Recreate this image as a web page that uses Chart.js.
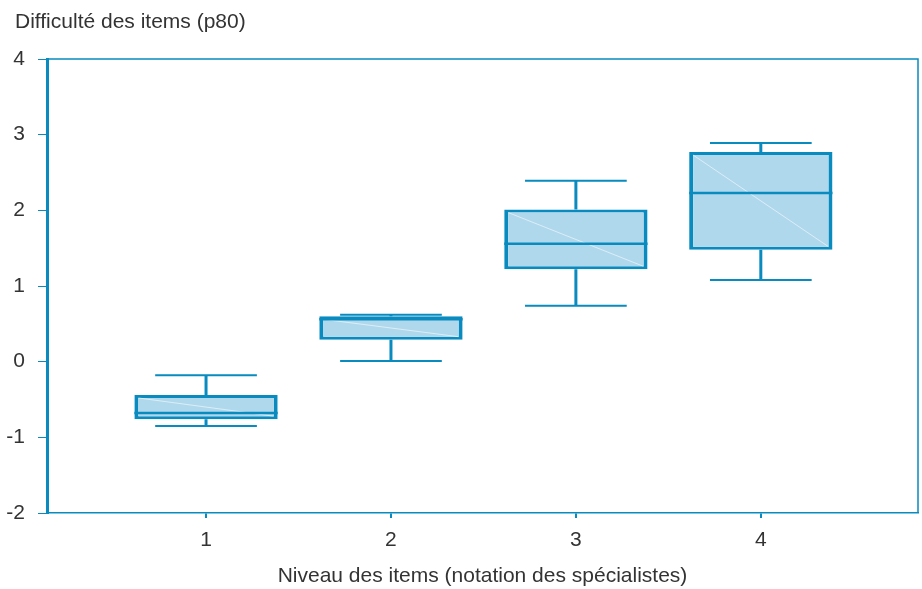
<!DOCTYPE html>
<html>
<head>
<meta charset="utf-8">
<script src="https://cdn.jsdelivr.net/npm/chart.js@4"></script>
<style>
  html, body { margin: 0; padding: 0; background: #fff; }
  #wrap { width: 922px; height: 589px; }
</style>
</head>
<body>
<div id="wrap"><canvas id="boxChart"></canvas></div>
<script>
// data
const levels = [1, 2, 3, 4];
const whiskerMin = [-0.85, 0.01, 0.74, 1.08];
const q1 = [-0.76, 0.29, 1.22, 1.48];
const median = [-0.68, 0.56, 1.56, 2.23];
const q3 = [-0.44, 0.60, 2.01, 2.77];
const whiskerMax = [-0.18, 0.62, 2.39, 2.89];
const yTicks = [-2, -1, 0, 1, 2, 3, 4];

const yTitle = "Difficulté des items (p80)";
const xTitle = "Niveau des items (notation des spécialistes)";

const blue = "#0a8bbf";
const fill = "#b0d8ec";
const txt = "#333333";
const fontFam = "'Liberation Sans', Arial, sans-serif";

let boxData = levels.map((l, i) => ({ x: l, y: [q1[i], q3[i]] }));

// whiskers, caps, medians and the faint diagonal drawn on top of the bars
const boxExtras = {
	id: "boxExtras",
	afterDatasetsDraw(chart) {
		let ctx = chart.ctx;
		let xs = chart.scales.x, ys = chart.scales.y;
		let meta = chart.getDatasetMeta(0);
		ctx.save();
		ctx.strokeStyle = blue;
		for (let i = 0; i < levels.length; i++) {
			let bar = meta.data[i];
			let cx = xs.getPixelForValue(levels[i]);
			let capL = xs.getPixelForValue(levels[i] - 0.275);
			let capR = xs.getPixelForValue(levels[i] + 0.275);
			let half = bar.width / 2;

			// faint diagonal
			ctx.strokeStyle = "rgba(255,255,255,0.55)";
			ctx.lineWidth = 1;
			ctx.beginPath();
			ctx.moveTo(cx - half + 4, ys.getPixelForValue(q3[i]) + 3);
			ctx.lineTo(cx + half - 4, ys.getPixelForValue(q1[i]) - 3);
			ctx.stroke();
			ctx.strokeStyle = blue;

			// stems
			ctx.lineWidth = 3;
			ctx.beginPath();
			ctx.moveTo(cx, ys.getPixelForValue(q3[i]));
			ctx.lineTo(cx, ys.getPixelForValue(whiskerMax[i]));
			ctx.moveTo(cx, ys.getPixelForValue(q1[i]));
			ctx.lineTo(cx, ys.getPixelForValue(whiskerMin[i]));
			ctx.stroke();

			// caps
			ctx.lineWidth = 2;
			ctx.beginPath();
			ctx.moveTo(capL, ys.getPixelForValue(whiskerMax[i]));
			ctx.lineTo(capR, ys.getPixelForValue(whiskerMax[i]));
			ctx.moveTo(capL, ys.getPixelForValue(whiskerMin[i]));
			ctx.lineTo(capR, ys.getPixelForValue(whiskerMin[i]));
			ctx.stroke();

			// median
			ctx.lineWidth = 2.5;
			ctx.beginPath();
			ctx.moveTo(cx - half, ys.getPixelForValue(median[i]));
			ctx.lineTo(cx + half, ys.getPixelForValue(median[i]));
			ctx.stroke();
		}
		ctx.restore();
	},
	afterDraw(chart) {
		let ctx = chart.ctx;
		let a = chart.chartArea;
		ctx.save();
		// top and right frame
		ctx.strokeStyle = blue;
		ctx.lineWidth = 1.5;
		ctx.beginPath();
		ctx.moveTo(a.left, a.top);
		ctx.lineTo(a.right, a.top);
		ctx.lineTo(a.right, a.bottom);
		ctx.stroke();
		// y axis title, horizontal in the top left corner
		ctx.fillStyle = txt;
		ctx.font = "21px " + fontFam;
		ctx.textAlign = "left";
		ctx.textBaseline = "middle";
		ctx.fillText(yTitle, 15, 22);
		ctx.restore();
	}
};

let ctx = document.getElementById("boxChart").getContext("2d");
let chart = new Chart(ctx, {
	type: "bar",
	data: {
		datasets: [{
			data: boxData,
			backgroundColor: fill,
			borderColor: blue,
			borderWidth: { left: 4, right: 4, top: 3, bottom: 3 },
			borderSkipped: false,
			categoryPercentage: 1,
			barPercentage: 0.775
		}]
	},
	plugins: [boxExtras],
	options: {
		responsive: true,
		maintainAspectRatio: false,
		animation: false,
		layout: { padding: { top: 59, right: 4, left: 0, bottom: 0 } },
		plugins: {
			legend: { display: false },
			tooltip: { enabled: false }
		},
		scales: {
			x: {
				type: "linear",
				offset: false,
				min: 0.14,
				max: 4.85,
				afterBuildTicks: (s) => { s.ticks = levels.map(v => ({ value: v })); },
				afterFit: (s) => { s.height = 76; },
				grid: { offset: false, drawOnChartArea: false, color: blue, lineWidth: 2, tickLength: 5 },
				border: { color: blue, width: 1.5 },
				ticks: { color: txt, font: { family: fontFam, size: 21 }, padding: 10 },
				title: { display: true, text: xTitle, color: txt, font: { family: fontFam, size: 21 }, padding: { top: 0, bottom: 0 } }
			},
			y: {
				min: -2,
				max: 4,
				afterBuildTicks: (s) => { s.ticks = yTicks.map(v => ({ value: v })); },
				afterFit: (s) => { s.width = 47; },
				grid: { drawOnChartArea: false, color: blue, lineWidth: 1, tickLength: 9 },
				border: { color: blue, width: 3 },
				ticks: { color: txt, font: { family: fontFam, size: 21 }, padding: 13 }
			}
		}
	}
});
</script>
</body>
</html>
